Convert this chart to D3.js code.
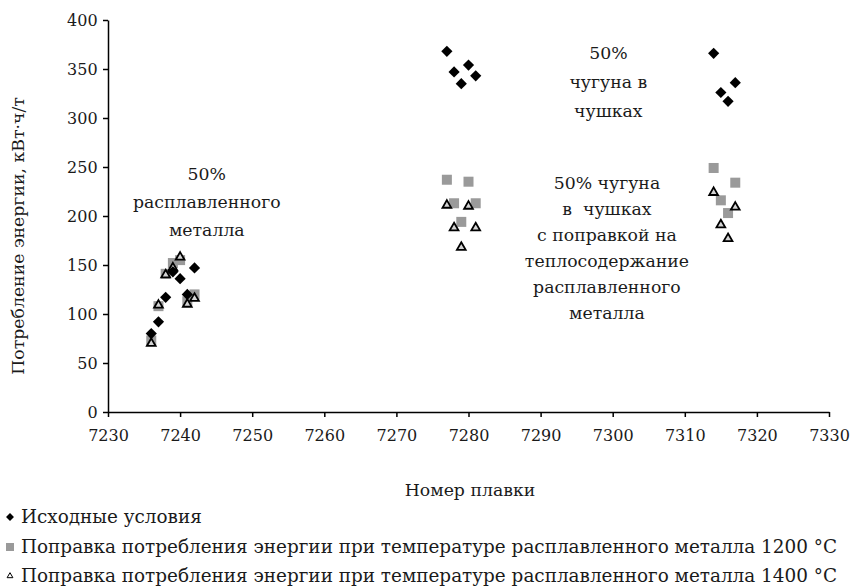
<!DOCTYPE html>
<html>
<head>
<meta charset="utf-8">
<script src="https://cdn.jsdelivr.net/npm/d3@7"></script>
<style>
  html, body { margin: 0; padding: 0; background: #fff; }
  svg { display: block; }
  text { font-family: "DejaVu Serif", serif; fill: #1a1a1a; }
</style>
</head>
<body>
<svg id="chart" width="855" height="587"></svg>
<script>
// Heat numbers and energy consumption, kWh/t
const heats = [7236, 7237, 7238, 7239, 7240, 7241, 7242,
               7277, 7278, 7279, 7280, 7281,
               7314, 7315, 7316, 7317];
const baseline = [80, 92, 117, 143, 136, 120, 147,
                  368, 347, 335, 354, 343,
                  366, 326, 317, 336];
const corr1200 = [73, 108, 141, 152, 155, 113, 120,
                  237, 213, 194, 235, 213,
                  249, 216, 203, 234];
const corr1400 = [70, 109, 140, 147, 158, 110, 116,
                  211, 188, 168, 210, 188,
                  224, 191, 177, 209];

const xTicks = [7230, 7240, 7250, 7260, 7270, 7280, 7290, 7300, 7310, 7320, 7330];
const yTicks = [0, 50, 100, 150, 200, 250, 300, 350, 400];

const seriesNames = [
  "Исходные условия",
  "Поправка потребления энергии при температуре расплавленного металла 1200 °C",
  "Поправка потребления энергии при температуре расплавленного металла 1400 °C"
];

// text notes placed in data coordinates (centre of the first line)
const notes = [
  { x: 7243.7, y: 243, step: 28, lines: ["50%", "расплавленного", "металла"] },
  { x: 7299.4, y: 366, step: 29, lines: ["50%", "чугуна в", "чушках"] },
  { x: 7299.2, y: 234, step: 26, lines: ["50% чугуна", "в  чушках", "с поправкой на", "теплосодержание", "расплавленного", "металла"] }
];

const svg = d3.select("#chart");
const margin = { left: 108, top: 20, right: 26, bottom: 175 };
const W = 855, H = 587;
const TICK_FS = 16, TEXT_FS = 17.3, LEG_FS = 18.4;

const x = d3.scaleLinear().domain([7230, 7330]).range([margin.left, W - margin.right]);
const y = d3.scaleLinear().domain([0, 400]).range([H - margin.bottom, margin.top]);

// axes
const xAxis = d3.axisBottom(x).tickValues(xTicks).tickFormat(d3.format("d")).tickSize(5).tickSizeOuter(0);
const yAxis = d3.axisLeft(y).tickValues(yTicks).tickFormat(d3.format("d")).tickSize(5).tickSizeOuter(0);

const gx = svg.append("g").attr("transform", `translate(0,${y(0)})`).call(xAxis);
const gy = svg.append("g").attr("transform", `translate(${x(7230)},0)`).call(yAxis);
[gx, gy].forEach(g => {
  g.attr("font-family", null).attr("font-size", null);
  g.select(".domain").attr("stroke", "#000").attr("stroke-width", 1.5);
  g.selectAll(".tick line").attr("stroke", "#000").attr("stroke-width", 1.5);
  g.selectAll(".tick text").style("font-size", TICK_FS + "px").attr("fill", "#1a1a1a");
});
gx.selectAll(".tick text").attr("dy", "1.3em");
gy.selectAll(".tick text").attr("dx", "-0.15em");

// axis titles
svg.append("text")
  .attr("x", 470).attr("y", 490).attr("dy", "0.35em")
  .attr("text-anchor", "middle").style("font-size", TEXT_FS + "px")
  .text("Номер плавки");
svg.append("text")
  .attr("transform", `translate(18,${(y(0) + y(400)) / 2 + 20}) rotate(-90)`)
  .attr("dy", "0.35em")
  .attr("text-anchor", "middle").style("font-size", TEXT_FS + "px")
  .text("Потребление энергии, кВт·ч/т");

// markers
const diamond = d3.symbol().type(d3.symbolDiamond2);
const tri = d3.symbol().type(d3.symbolTriangle2);

const pts = (vals) => heats.map((h, i) => ({ h, v: vals[i] }));

svg.append("g").selectAll("rect").data(pts(corr1200)).join("rect")
  .attr("x", d => x(d.h) - 5).attr("y", d => y(d.v) - 5)
  .attr("width", 10).attr("height", 10)
  .attr("fill", "#9a9a9a");

svg.append("g").selectAll("path").data(pts(corr1400)).join("path")
  .attr("d", tri.size(55)())
  .attr("transform", d => `translate(${x(d.h)},${y(d.v)})`)
  .attr("fill", "#d4d4d4").attr("stroke", "#000").attr("stroke-width", 1.8);

svg.append("g").selectAll("path").data(pts(baseline)).join("path")
  .attr("d", diamond.size(80)())
  .attr("transform", d => `translate(${x(d.h)},${y(d.v)})`)
  .attr("fill", "#000");

// annotations
notes.forEach(n => {
  const t = svg.append("text")
    .attr("x", x(n.x)).attr("y", y(n.y))
    .attr("text-anchor", "middle").style("font-size", TEXT_FS + "px");
  n.lines.forEach((ln, i) => {
    t.append("tspan").attr("x", x(n.x))
      .attr("dy", i === 0 ? "0.35em" : n.step)
      .attr("xml:space", "preserve").text(ln);
  });
});

// legend
const legY = [517, 547, 576];
const lg = svg.append("g");
lg.append("path").attr("d", diamond.size(40)()).attr("transform", `translate(10,${legY[0]})`).attr("fill", "#000");
lg.append("rect").attr("x", 6).attr("y", legY[1] - 4).attr("width", 8).attr("height", 8).attr("fill", "#9a9a9a");
lg.append("path").attr("d", tri.size(24)()).attr("transform", `translate(10,${legY[2]})`)
  .attr("fill", "#fff").attr("stroke", "#000").attr("stroke-width", 1);
seriesNames.forEach((s, i) => {
  lg.append("text").attr("x", 21).attr("y", legY[i]).attr("dy", "0.33em")
    .style("font-size", LEG_FS + "px").text(s);
});
</script>
</body>
</html>
